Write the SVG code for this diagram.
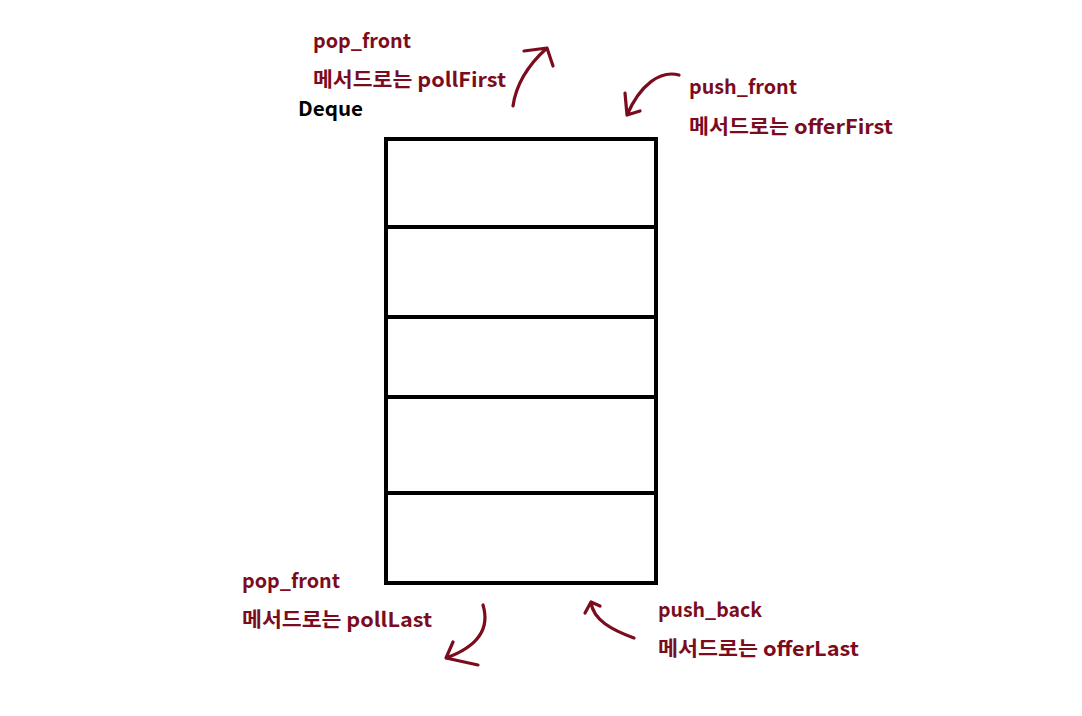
<svg xmlns="http://www.w3.org/2000/svg" width="1082" height="716" viewBox="0 0 1082 716">
<style>
.lbl{font-family:"Noto Sans CJK KR","Noto Sans",sans-serif;font-weight:bold;font-size:20px;fill:#7b0c1e}
.blk{font-family:"Noto Sans CJK KR","Noto Sans",sans-serif;font-weight:bold;font-size:20px;fill:#000}
.cell{fill:#fff;stroke:#000;stroke-width:4}
.arr{fill:none;stroke:#7b0c1e;stroke-width:3.2;stroke-linecap:round;stroke-linejoin:round}
</style>
<rect width="1082" height="716" fill="#fff"/>
<g id="deque">
<rect id="cell1" class="cell" x="386" y="139" width="270" height="88"/>
<rect id="cell2" class="cell" x="386" y="227" width="270" height="90"/>
<rect id="cell3" class="cell" x="386" y="317" width="270" height="80"/>
<rect id="cell4" class="cell" x="386" y="397" width="270" height="96"/>
<rect id="cell5" class="cell" x="386" y="493" width="270" height="90"/>
</g>
<g id="labels">
<text class="blk" x="298" y="116" textLength="65" lengthAdjust="spacingAndGlyphs">Deque</text>
<text class="lbl" x="313" y="48" textLength="98" lengthAdjust="spacingAndGlyphs">pop_front</text>
<text class="lbl" x="313" y="87" textLength="193" lengthAdjust="spacingAndGlyphs">메서드로는 pollFirst</text>
<text class="lbl" x="689" y="94" textLength="108" lengthAdjust="spacingAndGlyphs">push_front</text>
<text class="lbl" x="689" y="134" textLength="204" lengthAdjust="spacingAndGlyphs">메서드로는 offerFirst</text>
<text class="lbl" x="242" y="588" textLength="98" lengthAdjust="spacingAndGlyphs">pop_front</text>
<text class="lbl" x="242" y="627" textLength="190" lengthAdjust="spacingAndGlyphs">메서드로는 pollLast</text>
<text class="lbl" x="658" y="617" textLength="104" lengthAdjust="spacingAndGlyphs">push_back</text>
<text class="lbl" x="658" y="656" textLength="201" lengthAdjust="spacingAndGlyphs">메서드로는 offerLast</text>
</g>
<g id="connectors">
<path class="arr" d="M513,106 C516,85 528,65 547,48 M524,51 L547,48 L553,66"/>
<path class="arr" d="M679,75 C660,70 640,85 627,115 M625,93 L627,115 L640,111"/>
<path class="arr" d="M483,605 C489,625 482,645 446,658 M453,642 L446,658 L478,665"/>
<path class="arr" d="M634,638 C612,630 593,620 591,602 M585,613 L591,602 L600,606"/>
</g>
</svg>
